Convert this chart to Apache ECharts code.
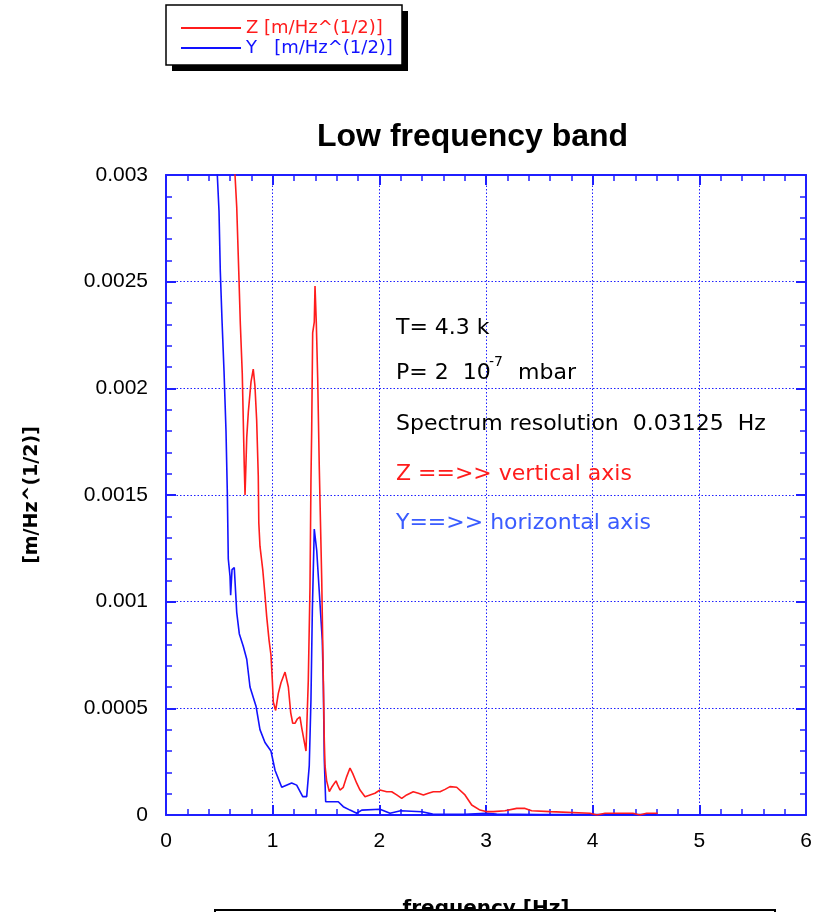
<!DOCTYPE html>
<html>
<head>
<meta charset="utf-8">
<script src="https://cdn.jsdelivr.net/npm/echarts@6/dist/echarts.min.js"></script>
<style>
  html, body { margin: 0; padding: 0; background: #fff; overflow: hidden; }
  #chart { width: 819px; height: 912px; }
</style>
</head>
<body>
<div id="chart"></div>
<script>
// Z (vertical axis) spectrum, [frequency Hz, m/Hz^(1/2)]
var zData = [
  [0.64, 0.0034], [0.647, 0.0030], [0.663, 0.00285], [0.682, 0.00255], [0.697, 0.0023],
  [0.715, 0.00207], [0.734, 0.00163], [0.741, 0.0015], [0.757, 0.00177], [0.772, 0.00189],
  [0.797, 0.00203], [0.818, 0.00209], [0.834, 0.00201], [0.85, 0.00185], [0.865, 0.00159],
  [0.87, 0.00137], [0.881, 0.00126], [0.907, 0.00115], [0.928, 0.00103], [0.944, 0.00093],
  [0.966, 0.00082], [0.984, 0.00075], [0.997, 0.00063], [1.006, 0.00053], [1.028, 0.00049],
  [1.053, 0.00057], [1.078, 0.00062], [1.116, 0.00067], [1.147, 0.0006], [1.169, 0.00048],
  [1.188, 0.00043], [1.209, 0.00043], [1.231, 0.00045], [1.256, 0.00046], [1.272, 0.00041],
  [1.294, 0.00035], [1.3125, 0.0003], [1.334, 0.00063], [1.35, 0.00107], [1.359, 0.00157],
  [1.366, 0.00181], [1.375, 0.00226], [1.39, 0.00231], [1.397, 0.00248], [1.409, 0.00231],
  [1.422, 0.00205], [1.437, 0.00163], [1.46, 0.0011], [1.475, 0.00063], [1.484, 0.00035],
  [1.491, 0.00023], [1.506, 0.00016], [1.531, 0.00011], [1.553, 0.00013], [1.569, 0.000125],
  [1.594, 0.00016], [1.61, 0.00014], [1.631, 0.000117], [1.662, 0.00013], [1.694, 0.00018],
  [1.725, 0.00022], [1.75, 0.000195], [1.788, 0.000149], [1.819, 0.000117], [1.866, 0.000086],
  [1.9125, 0.000094], [1.959, 0.000102], [2.006, 0.000117], [2.069, 0.000109], [2.116, 0.000109],
  [2.163, 0.000094], [2.21, 0.000078], [2.256, 0.000094], [2.318, 0.000109], [2.366, 0.000102],
  [2.413, 0.000094], [2.459, 0.000102], [2.506, 0.000109], [2.569, 0.000109], [2.616, 0.00012],
  [2.6625, 0.000133], [2.725, 0.00013], [2.803, 0.000094], [2.866, 0.000047], [2.944, 0.000023],
  [3.0, 0.000016], [3.069, 0.000016], [3.178, 0.00002], [3.288, 0.000031], [3.366, 0.000031],
  [3.428, 0.00002], [3.6, 0.000016], [3.975, 0.000008], [4.04, 0], [4.116, 0.000008],
  [4.378, 0.000008], [4.44, 0], [4.506, 0.000008], [4.61, 0.000008]
];

// Y (horizontal axis) spectrum
var yData = [
  [0.47, 0.0034], [0.481, 0.0030], [0.497, 0.00283], [0.509, 0.00255], [0.525, 0.00232],
  [0.544, 0.00208], [0.5625, 0.0018], [0.575, 0.00151], [0.584, 0.0012], [0.6, 0.00112],
  [0.606, 0.00103], [0.619, 0.00115], [0.64, 0.00116], [0.663, 0.00095], [0.687, 0.00085],
  [0.725, 0.00079], [0.757, 0.00073], [0.7875, 0.0006], [0.844, 0.00051], [0.881, 0.0004],
  [0.928, 0.00034], [0.984, 0.0003], [1.022, 0.00021], [1.085, 0.00013], [1.178, 0.00015],
  [1.225, 0.00014], [1.282, 0.000086], [1.319, 0.000086], [1.343, 0.00023], [1.359, 0.00054],
  [1.372, 0.00096], [1.39, 0.00134], [1.413, 0.00124], [1.434, 0.00107], [1.465, 0.00082],
  [1.475, 0.00061], [1.484, 0.00026], [1.497, 0.000062], [1.615, 0.000062], [1.662, 0.000039],
  [1.725, 0.000023], [1.788, 0.000008], [1.835, 0.000023], [2.006, 0.000027], [2.1, 0.000008],
  [2.2, 0.00002], [2.4, 0.000015], [2.5, 0.000004], [2.8, 0.000003], [3.0, 0.000008],
  [3.1, 0.000004], [3.5, 0.000002], [4.0, 0.000002], [4.6, 0.000002]
];

var seriesNames = ['Z [m/Hz^(1/2)]', 'Y   [m/Hz^(1/2)]'];
var seriesColors = ['#ff1c1c', '#1212ff'];
var notes = [
  'T= 4.3 k',
  'P= 2  10',
  'Spectrum resolution  0.03125  Hz',
  'Z ==>> vertical axis',
  'Y==>> horizontal axis'
];

var frameColor = '#1f1fff';
var noteFont = '22px "DejaVu Sans"';

function frameAxis(pos, isX) {
  var ax = {
    type: 'value',
    position: pos,
    min: 0,
    max: isX ? 6 : 0.003,
    interval: isX ? 1 : 0.0005,
    axisLine: { show: true, onZero: false, lineStyle: { color: frameColor, width: 2 } },
    axisTick: { show: true, inside: true, length: 10, lineStyle: { color: frameColor, width: 2 } },
    minorTick: { show: true, splitNumber: 5, length: 6, lineStyle: { color: frameColor, width: 1.5 } },
    splitLine: { show: false },
    axisLabel: { show: false }
  };
  return ax;
}

var xBottom = frameAxis('bottom', true);
xBottom.splitLine = { show: true, lineStyle: { color: frameColor, width: 1, type: [1.5, 2] } };
xBottom.axisLabel = { show: true, color: '#000', fontSize: 21, fontFamily: 'Liberation Sans', margin: 16 };
xBottom.name = 'frequency [Hz]';
xBottom.nameLocation = 'middle';
xBottom.nameGap = 84;
xBottom.nameTextStyle = { color: '#000', fontSize: 20, fontWeight: 'bold', fontFamily: 'DejaVu Sans' };

var yLeft = frameAxis('left', false);
yLeft.splitLine = { show: true, lineStyle: { color: frameColor, width: 1, type: [1.5, 2] } };
yLeft.axisLabel = { show: true, color: '#000', fontSize: 21, fontFamily: 'Liberation Sans', margin: 18 };
yLeft.name = '[m/Hz^(1/2)]';
yLeft.nameLocation = 'middle';
yLeft.nameGap = 124;
yLeft.nameTextStyle = { color: '#000', fontSize: 19, fontWeight: 'bold', fontFamily: 'DejaVu Sans' };

var chart = echarts.init(document.getElementById('chart'), null, { width: 819, height: 912 });
chart.setOption({
  animation: false,
  backgroundColor: '#fff',
  title: {
    text: 'Low frequency band',
    left: 317,
    top: 121,
    padding: 0,
    textStyle: { fontSize: 32, fontWeight: 'bold', color: '#000', fontFamily: 'Liberation Sans' }
  },
  legend: {
    orient: 'vertical',
    left: 180,
    top: 19,
    padding: 0,
    itemGap: 2,
    itemWidth: 60,
    itemHeight: 18,
    itemStyle: { opacity: 0 },
    textStyle: { fontSize: 18, fontFamily: 'DejaVu Sans' },
    data: [
      { name: seriesNames[0], textStyle: { color: seriesColors[0] } },
      { name: seriesNames[1], textStyle: { color: seriesColors[1] } }
    ]
  },
  // outerBoundsMode none: keep the plot frame where it is even though the axis name runs off the bottom
  grid: { left: 166, top: 175, width: 640, height: 640, outerBoundsMode: 'none', containLabel: false },
  xAxis: [xBottom, frameAxis('top', true)],
  yAxis: [yLeft, frameAxis('right', false)],
  series: [
    {
      name: seriesNames[0],
      type: 'line',
      data: zData,
      showSymbol: false,
      symbol: 'none',
      color: seriesColors[0],
      lineStyle: { width: 1.6, color: seriesColors[0] },
      z: 3
    },
    {
      name: seriesNames[1],
      type: 'line',
      data: yData,
      showSymbol: false,
      symbol: 'none',
      color: seriesColors[1],
      lineStyle: { width: 1.6, color: seriesColors[1] },
      z: 2
    }
  ],
  graphic: [
    // legend box with shadow
    { type: 'rect', z: 1, shape: { x: 172, y: 11, width: 236, height: 60 }, style: { fill: '#000' } },
    { type: 'rect', z: 2, shape: { x: 166, y: 5, width: 236, height: 60 }, style: { fill: '#fff', stroke: '#000', lineWidth: 1.5 } },
    // annotations
    { type: 'text', z: 20, x: 396, y: 328, style: { text: notes[0], font: noteFont, fill: '#000', verticalAlign: 'middle' } },
    { type: 'text', z: 20, x: 396, y: 373, style: { text: notes[1], font: noteFont, fill: '#000', verticalAlign: 'middle' } },
    { type: 'text', z: 20, x: 489, y: 362, style: { text: '-7', font: '14px "DejaVu Sans"', fill: '#000', verticalAlign: 'middle' } },
    { type: 'text', z: 20, x: 518, y: 373, style: { text: 'mbar', font: noteFont, fill: '#000', verticalAlign: 'middle' } },
    { type: 'text', z: 20, x: 396, y: 424, style: { text: notes[2], font: noteFont, fill: '#000', verticalAlign: 'middle' } },
    { type: 'text', z: 20, x: 396, y: 474, style: { text: notes[3], font: noteFont, fill: '#ff1c1c', verticalAlign: 'middle' } },
    { type: 'text', z: 20, x: 396, y: 523, style: { text: notes[4], font: noteFont, fill: '#3a5cff', verticalAlign: 'middle' } },
    // box at the bottom edge
    { type: 'rect', z: 100, shape: { x: 215, y: 910, width: 560, height: 40 }, style: { fill: '#fff', stroke: '#000', lineWidth: 2 } }
  ]
});
</script>
</body>
</html>
